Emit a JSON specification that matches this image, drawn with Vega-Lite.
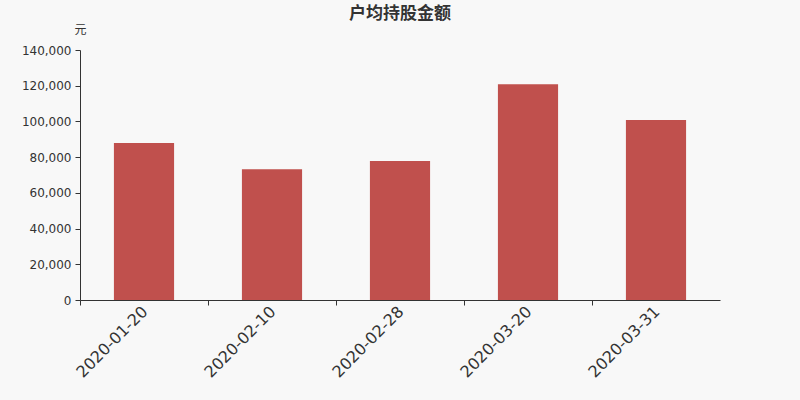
{
  "$schema": "https://vega.github.io/schema/vega-lite/v6.json",
  "autosize": {"type": "none"},
  "width": 640,
  "height": 250,
  "padding": {"left": 80, "top": 50, "right": 80, "bottom": 100},
  "background": "#f8f8f8",
  "config": {
    "view": {"stroke": null},
    "font": "DejaVu Sans"
  },
  "title": {
    "text": "户均持股金额",
    "fontSize": 17,
    "fontWeight": "bold",
    "color": "#333333",
    "anchor": "middle",
    "frame": "group",
    "offset": 0,
    "font": "Noto Sans CJK SC"
  },
  "data": {
    "values": [
      {"date": "2020-01-20", "amount": 87900},
      {"date": "2020-02-10", "amount": 73200},
      {"date": "2020-02-28", "amount": 77800},
      {"date": "2020-03-20", "amount": 120800},
      {"date": "2020-03-31", "amount": 100800}
    ]
  },
  "mark": {"type": "bar", "color": "#c0504d"},
  "encoding": {
    "x": {
      "field": "date",
      "type": "nominal",
      "sort": null,
      "scale": {"paddingInner": 0.53, "paddingOuter": 0.265},
      "axis": {
        "title": null,
        "labelAngle": -45,
        "labelFontSize": 16,
        "labelColor": "#333333",
        "labelPadding": -2,
        "tickOffset": -64,
        "labelOffset": 59,
        "domainColor": "#333333",
        "tickColor": "#333333",
        "tickSize": 5
      }
    },
    "y": {
      "field": "amount",
      "type": "quantitative",
      "scale": {"domain": [0, 140000]},
      "axis": {
        "title": "元",
        "titleAngle": 0,
        "titleX": 0,
        "titleY": -21,
        "titleAlign": "center",
        "titleBaseline": "middle",
        "titleFontSize": 12,
        "titleFontWeight": "normal",
        "titleColor": "#333333",
        "titleFont": "Noto Sans CJK SC",
        "values": [0, 20000, 40000, 60000, 80000, 100000, 120000, 140000],
        "format": ",.0f",
        "grid": false,
        "labelFontSize": 12,
        "labelColor": "#333333",
        "labelPadding": 4,
        "domainColor": "#333333",
        "tickColor": "#333333",
        "tickSize": 5
      }
    }
  }
}
